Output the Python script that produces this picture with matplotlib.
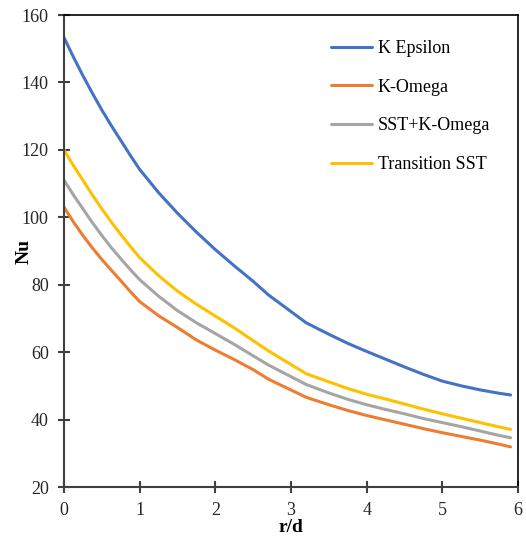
import matplotlib
matplotlib.use('Agg')
import matplotlib.pyplot as plt

plt.rcParams['font.family'] = ['Liberation Serif', 'DejaVu Serif']

# r/d positions
r_d = [0, 0.125, 0.25, 0.375, 0.5, 0.625, 0.75, 0.875, 1, 1.25, 1.5, 1.75, 2,
       2.25, 2.5, 2.7, 3.2, 3.5, 3.75, 4, 4.25, 4.5, 4.75, 5, 5.25, 5.5, 5.75, 5.9]

# Nu values per turbulence model
nu_k_epsilon = [153.3, 147.5, 142, 136.8, 131.8, 127.2, 122.8, 118.4, 114.2, 107.3, 101.2, 95.6, 90.4,
                85.6, 81, 77, 68.7, 65.3, 62.6, 60.2, 57.9, 55.6, 53.4, 51.4, 50, 48.8, 47.8, 47.3]
nu_k_omega = [103, 98.6, 94.6, 90.9, 87.5, 84.3, 81.2, 78, 75, 70.8, 67.3, 63.6, 60.6,
              57.8, 54.8, 52, 46.6, 44.4, 42.7, 41.2, 39.9, 38.6, 37.3, 36.1, 35, 33.9, 32.7, 31.9]
nu_sst_k_omega = [111, 106.6, 102.5, 98.4, 94.6, 91, 87.7, 84.5, 81.5, 76.6, 72.3, 68.7, 65.5,
                  62.3, 58.9, 56.2, 50.4, 47.9, 46, 44.4, 43, 41.7, 40.3, 39.1, 37.9, 36.6, 35.3, 34.6]
nu_transition_sst = [120, 115.3, 111, 106.6, 102.5, 98.6, 94.9, 91.4, 88, 82.7, 78.1, 74.2, 70.7,
                     67.2, 63.4, 60.4, 53.6, 51.2, 49.2, 47.5, 46.1, 44.6, 43.1, 41.7, 40.4, 39.1, 37.8, 37.1]

series = [
    ('K Epsilon', nu_k_epsilon, '#4472C4'),
    ('K-Omega', nu_k_omega, '#ED7D31'),
    ('SST+K-Omega', nu_sst_k_omega, '#A5A5A5'),
    ('Transition SST', nu_transition_sst, '#FFC000'),
]

fig = plt.figure(figsize=(5.26, 5.36), dpi=100)
ax = fig.add_axes([0.1217, 0.0914, 0.8633, 0.8806])

for label, vals, color in series:
    ax.plot(r_d, vals, color=color, lw=2.2, label=label, solid_capstyle='round',
            solid_joinstyle='round')

ax.set_xlim(0, 6)
ax.set_ylim(20, 160)
ax.set_xticks(range(0, 7))
ax.set_yticks(range(20, 161, 20))

for s in ax.spines.values():
    s.set_color('#404040')
    s.set_linewidth(1.5)
ax.spines['top'].set_color('black')
ax.spines['right'].set_color('black')
ax.spines['top'].set_linewidth(1.2)
ax.spines['right'].set_linewidth(1.2)

ax.tick_params(direction='inout', length=8, width=1.5, color='#404040',
               labelsize=13, labelcolor='#262626')
ax.tick_params(axis='x', pad=6.5)
ax.tick_params(axis='y', pad=7)

ax.set_xlabel('r/d', fontsize=14, fontweight='bold', labelpad=0.5)
ax.set_ylabel('Nu', fontsize=14, fontweight='bold')
ax.yaxis.set_label_coords(-0.07, 0.5)

ax.legend(loc='upper left', bbox_to_anchor=(0.568, 0.966), frameon=False,
          fontsize=13, handlelength=2.3, handletextpad=0.3, labelspacing=1.2,
          borderpad=0)

fig.savefig('out.png', dpi=100)
